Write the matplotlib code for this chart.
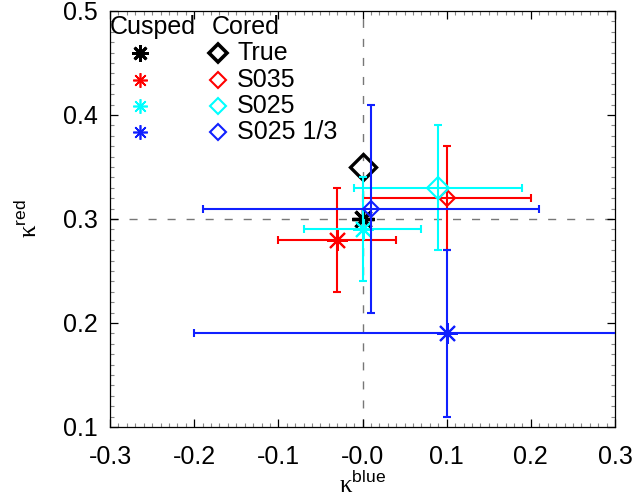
#!/usr/bin/env python3

import matplotlib
matplotlib.use("Agg")
import matplotlib.pyplot as plt
from matplotlib.ticker import MultipleLocator

plt.rcParams["font.family"] = "Liberation Sans"
plt.rcParams["font.size"] = 18
plt.rcParams["mathtext.fontset"] = "custom"
plt.rcParams["mathtext.rm"] = "Liberation Serif"
plt.rcParams["mathtext.sf"] = "Liberation Sans"

# order: True, S035, S025, S025 1/3
names = ["True", "S035", "S025", "S025 1/3"]
colors = ["black", "#ff0000", "#00ffff", "#1020ff"]

cusped_x = [0.0, -0.03, 0.0, 0.10]
cusped_y = [0.30, 0.28, 0.29, 0.19]
cusped_xerr = [0.0, 0.07, 0.07, 0.30]
cusped_yerr = [0.0, 0.05, 0.05, 0.08]

cored_x = [0.0, 0.10, 0.09, 0.01]
cored_y = [0.35, 0.32, 0.33, 0.31]
cored_xerr = [0.0, 0.10, 0.10, 0.20]
cored_yerr = [0.0, 0.05, 0.06, 0.10]

cusped_size = [16, 15, 15, 15]
cored_size = [13.5, 8.5, 11, 8]

xticks = [-0.3, -0.2, -0.1, 0.0, 0.1, 0.2, 0.3]
xtick_labels = ["-0.3", "-0.2", "-0.1", "-0.0", "0.1", "0.2", "0.3"]
yticks = [0.1, 0.2, 0.3, 0.4, 0.5]
ytick_labels = ["0.1", "0.2", "0.3", "0.4", "0.5"]

ASTERISK = (8, 2, 0)


def main():
    fig = plt.figure(figsize=(6.38, 4.99), dpi=100)
    ax = fig.add_axes([110 / 638, 1 - 427 / 499, 505 / 638, 416 / 499])

    ax.axvline(0.0, color="#777777", lw=1, ls=(0, (5.8, 7.9)), zorder=1)
    ax.axhline(0.3, color="#777777", lw=1, ls=(0, (5.8, 7.9)), zorder=1)

    z = 2
    for i in range(len(names)):
        lw = 2.4 if i == 0 else 1.5
        for xs, ys, xe, ye, mk, sz in (
            (cusped_x, cusped_y, cusped_xerr, cusped_yerr, ASTERISK, cusped_size),
            (cored_x, cored_y, cored_xerr, cored_yerr, "D", cored_size),
        ):
            if xe[i] > 0 or ye[i] > 0:
                ax.errorbar(xs[i], ys[i], xerr=xe[i], yerr=ye[i], fmt="none",
                            ecolor=colors[i], elinewidth=1.5, capsize=2.6,
                            capthick=1.5, zorder=z)
            ax.plot(xs[i], ys[i], marker=mk, ms=sz[i], mfc="none",
                    mec=colors[i], mew=lw, ls="none", zorder=z + 0.5)
            z += 1

    # legend built by hand, two columns
    ax.text(0.0, 0.9615, "Cusped", transform=ax.transAxes, ha="left",
            va="center", zorder=20)
    ax.text(0.202, 0.9615, "Cored", transform=ax.transAxes, ha="left",
            va="center", zorder=20)
    rows = [0.899, 0.834, 0.772, 0.709]
    for i, name in enumerate(names):
        lw = 2.0 if i == 0 else 1.2
        ax.plot(0.0594, rows[i], marker=ASTERISK, ms=12 if i == 0 else 10.5,
                mec=colors[i], mew=lw, ls="none", transform=ax.transAxes,
                zorder=20)
        ax.plot(0.2139, rows[i], marker="D", ms=9 if i == 0 else 8.3,
                mfc="none", mec=colors[i], mew=2.6 if i == 0 else 1.5,
                ls="none", transform=ax.transAxes, zorder=20)
        ax.text(0.2515, rows[i], name, transform=ax.transAxes, ha="left",
                va="center", zorder=20)

    ax.set_xlim(-0.3, 0.3)
    ax.set_ylim(0.1, 0.5)
    ax.set_xticks(xticks)
    ax.set_xticklabels(xtick_labels)
    ax.set_yticks(yticks)
    ax.set_yticklabels(ytick_labels)
    ax.xaxis.set_minor_locator(MultipleLocator(0.01))
    ax.yaxis.set_minor_locator(MultipleLocator(0.01))
    ax.tick_params(which="both", direction="in", top=True, right=True)
    ax.tick_params(which="major", length=6, width=0.9)
    ax.tick_params(axis="x", which="major", pad=13)
    ax.tick_params(axis="y", which="major", pad=9)
    ax.tick_params(which="minor", length=3, width=0.8, color="#888888")
    for s in ax.spines.values():
        s.set_linewidth(0.9)

    ax.set_xlabel(r"$\mathrm{\kappa}^{\mathsf{blue}}$", fontsize=18)
    ax.set_ylabel(r"$\mathrm{\kappa}^{\mathsf{red}}$", fontsize=18)
    ax.xaxis.set_label_coords(0.5, -0.105)
    ax.yaxis.set_label_coords(-0.135, 0.5)

    fig.savefig("out.png", dpi=100)
    plt.close(fig)


if __name__ == "__main__":
    main()
